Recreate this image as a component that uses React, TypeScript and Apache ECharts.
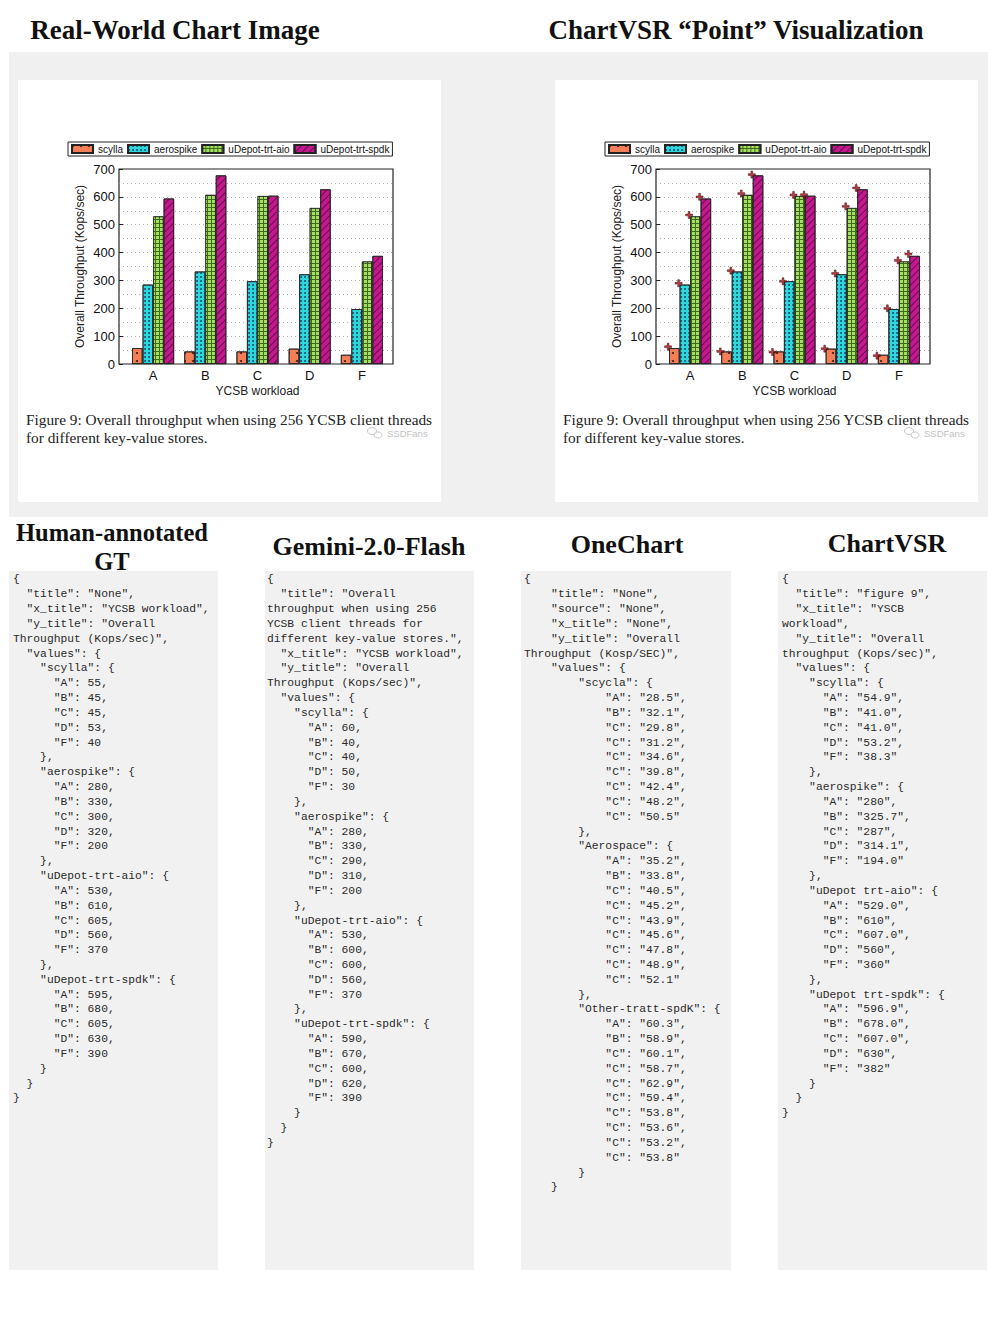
import React, { useEffect, useRef } from "react";
import * as echarts from "echarts";

// ---------- chart data ----------
const categories = ["A", "B", "C", "D", "F"];
const seriesNames = ["scylla", "aerospike", "uDepot-trt-aio", "uDepot-trt-spdk"];
const scyllaValues = [57, 45, 45, 55, 33];
const aerospikeValues = [285, 332, 297, 322, 197];
const aioValues = [530, 607, 603, 560, 368];
const spdkValues = [594, 677, 604, 627, 388];
// ChartVSR "point" markers
const scyllaPoints = [62, 45, 43, 55, 30];
const aerospikePoints = [290, 335, 297, 325, 200];
const aioPoints = [535, 612, 607, 566, 372];
const spdkPoints = [600, 680, 608, 632, 395];
const yMax = 700;

// ---------- text columns ----------
const gtLines = [
  "{",
  '  "title": "None",',
  '  "x_title": "YCSB workload",',
  '  "y_title": "Overall',
  'Throughput (Kops/sec)",',
  '  "values": {',
  '    "scylla": {',
  '      "A": 55,',
  '      "B": 45,',
  '      "C": 45,',
  '      "D": 53,',
  '      "F": 40',
  "    },",
  '    "aerospike": {',
  '      "A": 280,',
  '      "B": 330,',
  '      "C": 300,',
  '      "D": 320,',
  '      "F": 200',
  "    },",
  '    "uDepot-trt-aio": {',
  '      "A": 530,',
  '      "B": 610,',
  '      "C": 605,',
  '      "D": 560,',
  '      "F": 370',
  "    },",
  '    "uDepot-trt-spdk": {',
  '      "A": 595,',
  '      "B": 680,',
  '      "C": 605,',
  '      "D": 630,',
  '      "F": 390',
  "    }",
  "  }",
  "}",
];
const geminiLines = [
  "{",
  '  "title": "Overall',
  "throughput when using 256",
  "YCSB client threads for",
  'different key-value stores.",',
  '  "x_title": "YCSB workload",',
  '  "y_title": "Overall',
  'Throughput (Kops/sec)",',
  '  "values": {',
  '    "scylla": {',
  '      "A": 60,',
  '      "B": 40,',
  '      "C": 40,',
  '      "D": 50,',
  '      "F": 30',
  "    },",
  '    "aerospike": {',
  '      "A": 280,',
  '      "B": 330,',
  '      "C": 290,',
  '      "D": 310,',
  '      "F": 200',
  "    },",
  '    "uDepot-trt-aio": {',
  '      "A": 530,',
  '      "B": 600,',
  '      "C": 600,',
  '      "D": 560,',
  '      "F": 370',
  "    },",
  '    "uDepot-trt-spdk": {',
  '      "A": 590,',
  '      "B": 670,',
  '      "C": 600,',
  '      "D": 620,',
  '      "F": 390',
  "    }",
  "  }",
  "}",
];
const oneChartLines = [
  "{",
  '    "title": "None",',
  '    "source": "None",',
  '    "x_title": "None",',
  '    "y_title": "Overall',
  'Throughput (Kosp/SEC)",',
  '    "values": {',
  '        "scycla": {',
  '            "A": "28.5",',
  '            "B": "32.1",',
  '            "C": "29.8",',
  '            "C": "31.2",',
  '            "C": "34.6",',
  '            "C": "39.8",',
  '            "C": "42.4",',
  '            "C": "48.2",',
  '            "C": "50.5"',
  "        },",
  '        "Aerospace": {',
  '            "A": "35.2",',
  '            "B": "33.8",',
  '            "C": "40.5",',
  '            "C": "45.2",',
  '            "C": "43.9",',
  '            "C": "45.6",',
  '            "C": "47.8",',
  '            "C": "48.9",',
  '            "C": "52.1"',
  "        },",
  '        "Other-tratt-spdK": {',
  '            "A": "60.3",',
  '            "B": "58.9",',
  '            "C": "60.1",',
  '            "C": "58.7",',
  '            "C": "62.9",',
  '            "C": "59.4",',
  '            "C": "53.8",',
  '            "C": "53.6",',
  '            "C": "53.2",',
  '            "C": "53.8"',
  "        }",
  "    }",
];
const chartVsrLines = [
  "{",
  '  "title": "figure 9",',
  '  "x_title": "YSCB',
  'workload",',
  '  "y_title": "Overall',
  'throughput (Kops/sec)",',
  '  "values": {',
  '    "scylla": {',
  '      "A": "54.9",',
  '      "B": "41.0",',
  '      "C": "41.0",',
  '      "D": "53.2",',
  '      "F": "38.3"',
  "    },",
  '    "aerospike": {',
  '      "A": "280",',
  '      "B": "325.7",',
  '      "C": "287",',
  '      "D": "314.1",',
  '      "F": "194.0"',
  "    },",
  '    "uDepot trt-aio": {',
  '      "A": "529.0",',
  '      "B": "610",',
  '      "C": "607.0",',
  '      "D": "560",',
  '      "F": "360"',
  "    },",
  '    "uDepot trt-spdk": {',
  '      "A": "596.9",',
  '      "B": "678.0",',
  '      "C": "607.0",',
  '      "D": "630",',
  '      "F": "382"',
  "    }",
  "  }",
  "}",
];

const SANS = "'Liberation Sans', Arial, sans-serif";
const SERIF = "'Liberation Serif', 'Times New Roman', serif";
const MONO = "'Liberation Mono', 'DejaVu Sans Mono', monospace";

const barStyles = [
  {
    color: "#F47E58",
    borderColor: "#222",
    borderWidth: 0.8,
    decal: { symbol: "circle", symbolSize: 1, dashArrayX: [2, 6], dashArrayY: [2, 6], color: "#3a1a10" },
  },
  {
    color: "#2CD8DC",
    borderColor: "#222",
    borderWidth: 0.8,
    decal: { symbol: "circle", symbolSize: 0.9, dashArrayX: [2, 2], dashArrayY: [2, 2], color: "#17406a" },
  },
  {
    color: "#3F6A1C",
    borderColor: "#222",
    borderWidth: 0.8,
    decal: { symbol: "rect", symbolSize: 1, dashArrayX: [3, 1], dashArrayY: [3, 1], color: "#A3E060" },
  },
  {
    color: "#C4188E",
    borderColor: "#222",
    borderWidth: 0.8,
    decal: { symbol: "rect", symbolSize: 1, dashArrayX: [1, 0], dashArrayY: [1, 4], rotation: -Math.PI / 4, color: "#6a0a4c" },
  },
];

const barValues = [scyllaValues, aerospikeValues, aioValues, spdkValues];
const pointValues = [scyllaPoints, aerospikePoints, aioPoints, spdkPoints];

function chartPanelAxes(dx: number) {
  const frameGrid = { left: 119 + dx, top: 169, width: 274, height: 195, show: true, borderColor: "#222", borderWidth: 1.2, backgroundColor: "rgba(0,0,0,0)" };
  const barGrid = { left: 127 + dx, top: 169, width: 261, height: 195, show: false };
  return { frameGrid, barGrid };
}

function frameYAxis(gridIndex: number) {
  return {
    type: "value",
    gridIndex,
    min: 0,
    max: yMax,
    interval: 100,
    name: "Overall Throughput (Kops/sec)",
    nameLocation: "middle",
    nameGap: 33,
    nameTextStyle: { fontSize: 12, fontFamily: SANS, color: "#222" },
    axisLine: { show: false },
    axisTick: { show: true, inside: true, length: 4, lineStyle: { color: "#222" } },
    axisLabel: { fontSize: 13, fontFamily: SANS, color: "#111", margin: 4 },
    splitLine: { show: true, lineStyle: { color: "#999", width: 0.8, type: [1, 3] } },
    minorTick: { show: false, splitNumber: 2 },
    minorSplitLine: { show: true, lineStyle: { color: "#999", width: 0.8, type: [1, 3] } },
  };
}

function barXAxis(gridIndex: number) {
  return {
    type: "category",
    gridIndex,
    data: categories,
    name: "YCSB workload",
    nameLocation: "middle",
    nameGap: 21,
    nameTextStyle: { fontSize: 12, fontFamily: SANS, color: "#222" },
    axisLine: { show: false },
    axisTick: { show: true, inside: true, alignWithLabel: true, length: 4, lineStyle: { color: "#222" } },
    axisLabel: { fontSize: 13, fontFamily: SANS, color: "#111", margin: 5 },
    splitLine: { show: false },
  };
}

function legendAt(left: number) {
  return {
    left,
    top: 142,
    data: seriesNames,
    icon: "rect",
    orient: "horizontal",
    borderColor: "#222",
    borderWidth: 1,
    padding: [2, 3, 2, 3],
    itemWidth: 21,
    itemHeight: 8,
    itemGap: 4,
    textStyle: { fontSize: 10, fontFamily: SANS, color: "#111" },
  };
}

const plusPath = "path://M3,0H5V3H8V5H5V8H3V5H0V3H3Z";

function textBlock(lines: string[], x: number) {
  return {
    type: "text",
    x,
    y: 572,
    z: 5,
    style: {
      text: lines.join("\n"),
      fontSize: 11.3,
      fontFamily: MONO,
      lineHeight: 14.83,
      fill: "#2a2a2a",
      align: "left",
      verticalAlign: "top",
    },
  };
}

function centeredText(text: string, x: number, y: number, size: number, bold = true) {
  return {
    type: "text",
    x,
    y,
    z: 5,
    style: {
      text,
      fontSize: size,
      fontFamily: SERIF,
      fontWeight: bold ? "bold" : "normal",
      fill: "#111",
      align: "center",
      verticalAlign: "middle",
    },
  };
}

function captionGroup(dx: number) {
  return [
    {
      type: "text",
      x: 26 + dx,
      y: 419,
      z: 5,
      style: {
        text: "Figure 9: Overall throughput when using 256 YCSB client threads",
        fontSize: 15.3,
        fontFamily: SERIF,
        fill: "#222",
        align: "left",
        verticalAlign: "middle",
      },
    },
    {
      type: "text",
      x: 26 + dx,
      y: 437,
      z: 5,
      style: {
        text: "for different key-value stores.",
        fontSize: 15.3,
        fontFamily: SERIF,
        fill: "#222",
        align: "left",
        verticalAlign: "middle",
      },
    },
    {
      type: "ellipse",
      z: 6,
      shape: { cx: 372 + dx, cy: 431, rx: 4.5, ry: 3.5 },
      style: { fill: "rgba(0,0,0,0)", stroke: "#c8c8c8", lineWidth: 1 },
    },
    {
      type: "ellipse",
      z: 6,
      shape: { cx: 378 + dx, cy: 435, rx: 4, ry: 3 },
      style: { fill: "#fff", stroke: "#c8c8c8", lineWidth: 1 },
    },
    {
      type: "text",
      x: 387 + dx,
      y: 433,
      z: 6,
      style: { text: "SSDFans", fontSize: 9.5, fontFamily: SANS, fill: "#c2c2c2", align: "left", verticalAlign: "middle" },
    },
  ];
}

export default function App() {
  const ref = useRef<HTMLDivElement>(null);

  useEffect(() => {
    if (!ref.current) return;
    const chart = echarts.init(ref.current, undefined, { renderer: "svg" });

    const left = chartPanelAxes(0);
    const right = chartPanelAxes(537);

    const series: any[] = [];
    seriesNames.forEach((name, i) => {
      series.push({
        name,
        type: "bar",
        xAxisIndex: 1,
        yAxisIndex: 1,
        data: barValues[i],
        barWidth: 10.5,
        barGap: "0%",
        itemStyle: barStyles[i],
        z: 3,
      });
    });
    seriesNames.forEach((name, i) => {
      series.push({
        name,
        type: "bar",
        xAxisIndex: 3,
        yAxisIndex: 3,
        data: barValues[i],
        barWidth: 10.5,
        barGap: "0%",
        itemStyle: barStyles[i],
        z: 3,
      });
    });
    seriesNames.forEach((name, i) => {
      series.push({
        name: name + " point",
        type: "scatter",
        xAxisIndex: 3,
        yAxisIndex: 3,
        data: pointValues[i],
        symbol: plusPath,
        symbolSize: 7,
        symbolOffset: [-22 + 10.5 * i, 0],
        itemStyle: { color: "#A8101A", borderColor: "#3a0000", borderWidth: 0.6 },
        z: 6,
      });
    });

    const graphics: any[] = [
      { type: "rect", z: -30, shape: { x: 9, y: 52, width: 979, height: 465 }, style: { fill: "#F0F0F0" } },
      { type: "rect", z: -29, shape: { x: 18, y: 80, width: 423, height: 422 }, style: { fill: "#FFFFFF" } },
      { type: "rect", z: -29, shape: { x: 555, y: 80, width: 423, height: 422 }, style: { fill: "#FFFFFF" } },
      { type: "rect", z: -29, shape: { x: 9, y: 571, width: 209, height: 699 }, style: { fill: "#F1F1F1" } },
      { type: "rect", z: -29, shape: { x: 265, y: 571, width: 209, height: 699 }, style: { fill: "#F1F1F1" } },
      { type: "rect", z: -29, shape: { x: 521, y: 571, width: 210, height: 699 }, style: { fill: "#F1F1F1" } },
      { type: "rect", z: -29, shape: { x: 778, y: 571, width: 209, height: 699 }, style: { fill: "#F1F1F1" } },
      centeredText("Real-World Chart Image", 175, 30, 27),
      centeredText("ChartVSR \u201cPoint\u201d Visualization", 736, 30, 27),
      centeredText("Human-annotated", 112, 532, 24.5),
      centeredText("GT", 112, 561, 24.5),
      centeredText("Gemini-2.0-Flash", 369, 546, 26),
      centeredText("OneChart", 627, 544, 26),
      centeredText("ChartVSR", 887, 543, 26),
      ...captionGroup(0),
      ...captionGroup(537),
      textBlock(gtLines, 13),
      textBlock(geminiLines, 267),
      textBlock(oneChartLines, 524),
      textBlock(chartVsrLines, 782),
    ];

    const option: any = {
      animation: false,
      backgroundColor: "#FFFFFF",
      grid: [left.frameGrid, left.barGrid, right.frameGrid, right.barGrid],
      xAxis: [
        { type: "value", gridIndex: 0, show: false, min: 0, max: 1 },
        barXAxis(1),
        { type: "value", gridIndex: 2, show: false, min: 0, max: 1 },
        barXAxis(3),
      ],
      yAxis: [
        frameYAxis(0),
        { type: "value", gridIndex: 1, min: 0, max: yMax, show: false },
        frameYAxis(2),
        { type: "value", gridIndex: 3, min: 0, max: yMax, show: false },
      ],
      legend: [legendAt(68), legendAt(605)],
      series,
      graphic: { elements: graphics },
    };

    chart.setOption(option);
    return () => chart.dispose();
  }, []);

  return (
    <div
      ref={ref}
      style={{ position: "absolute", left: 0, top: 0, width: 996, height: 1328 }}
    />
  );
}
